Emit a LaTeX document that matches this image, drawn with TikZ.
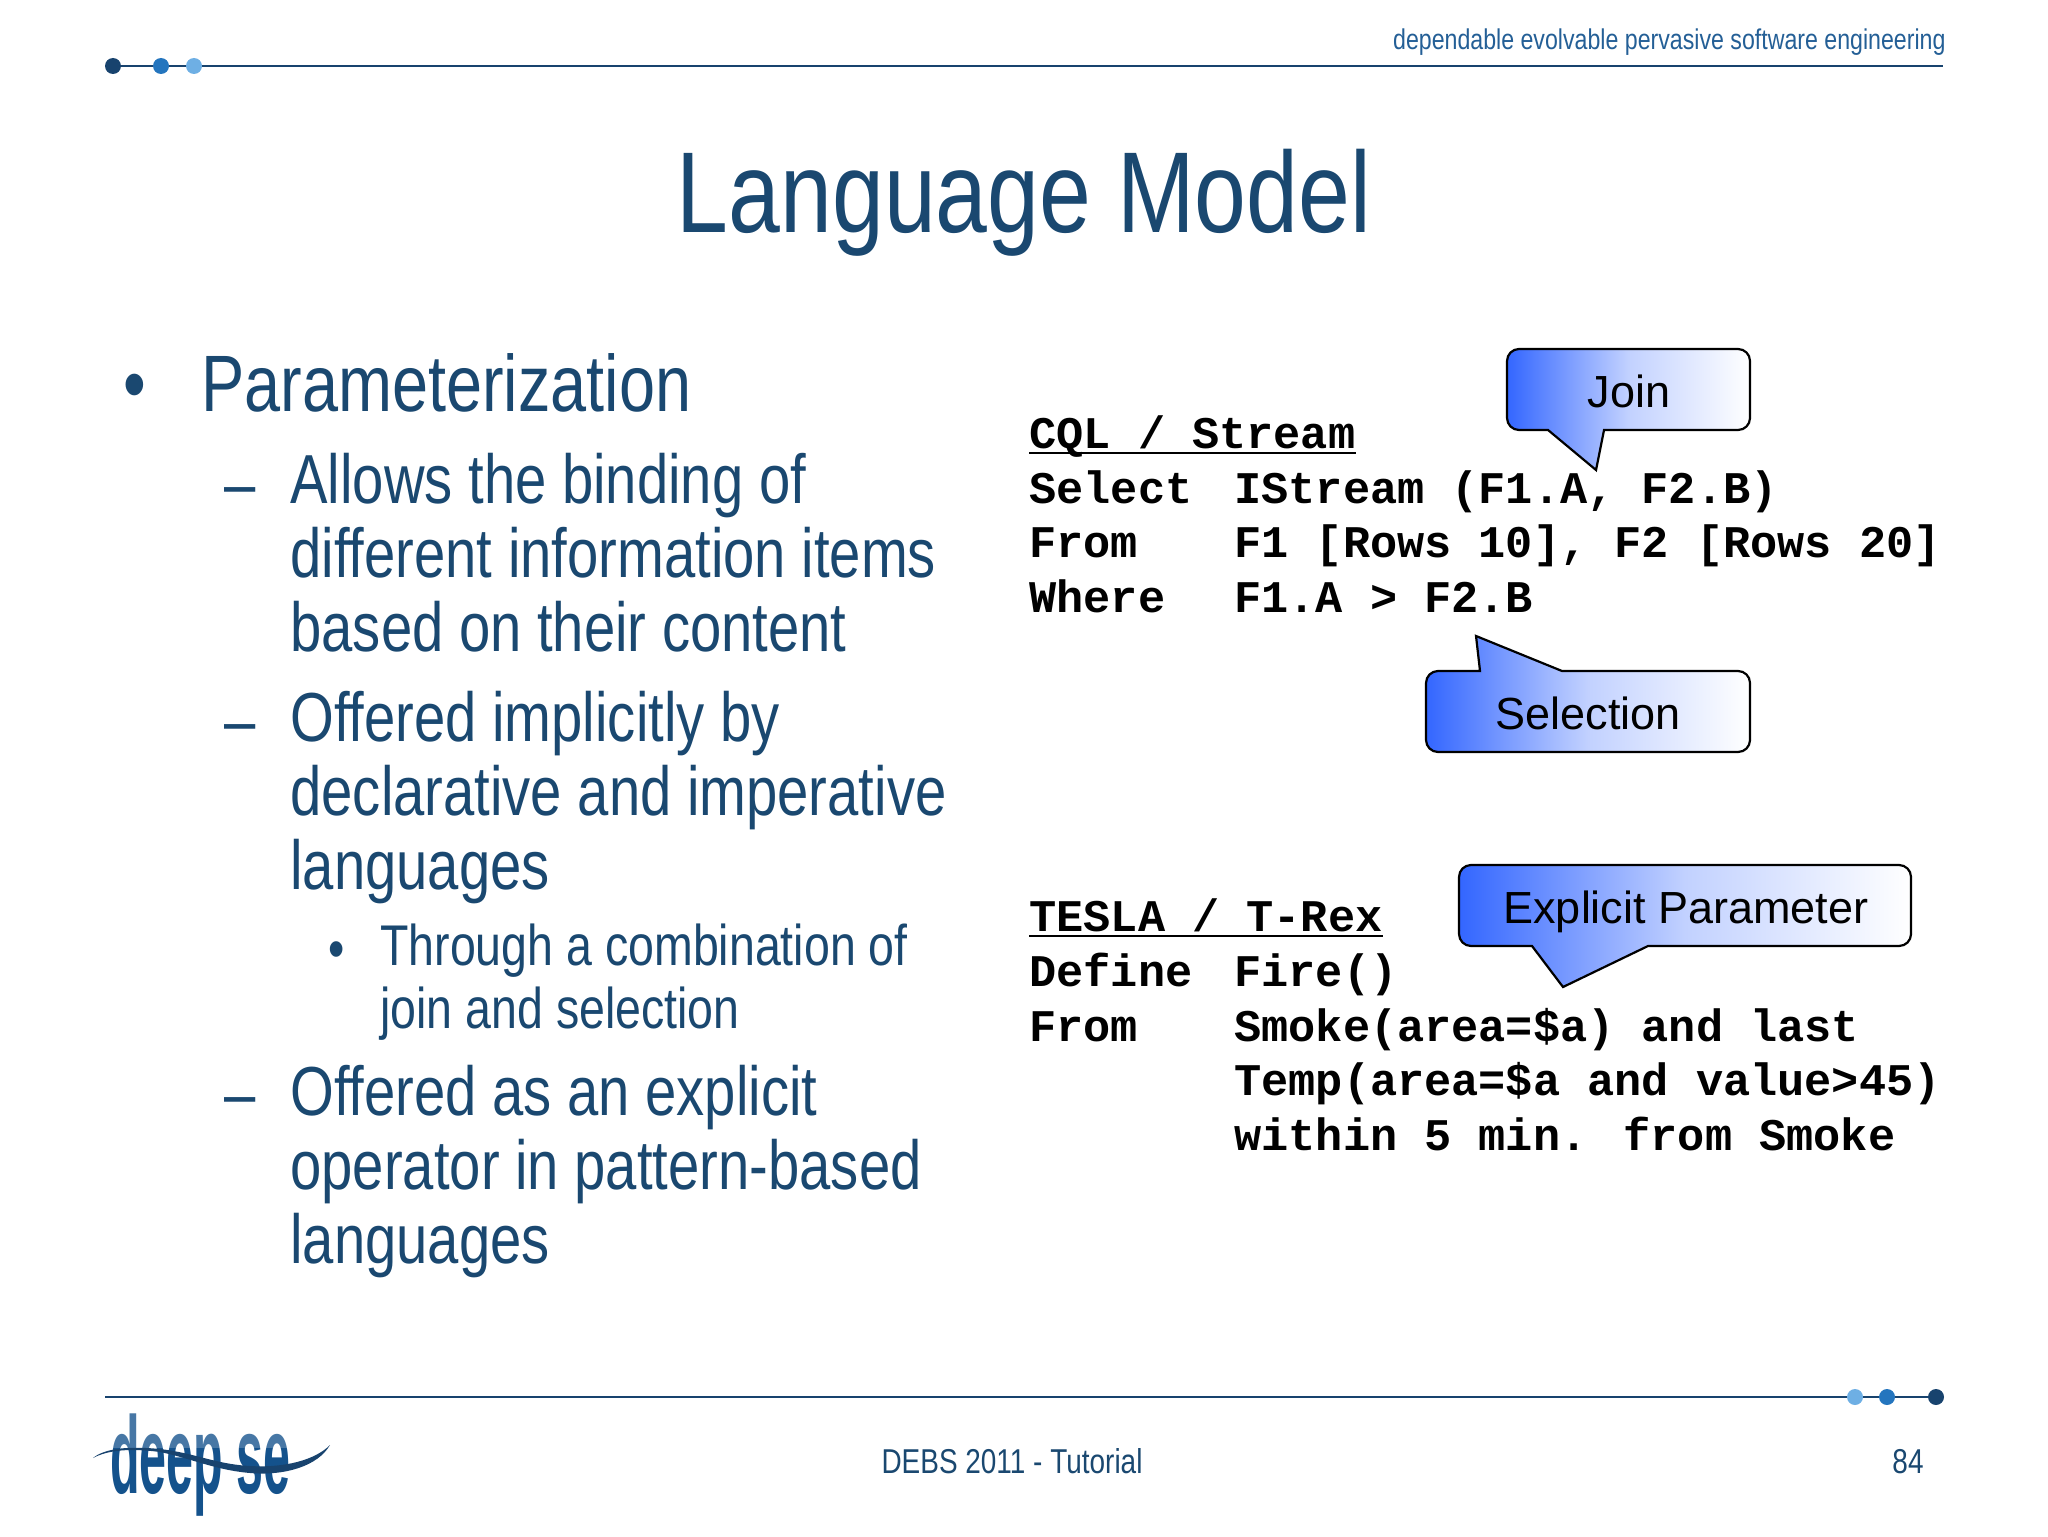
\documentclass[tikz,border=0pt]{standalone}
\usepackage{fontspec}
\usepackage{xcolor}
\usetikzlibrary{positioning,calc}
\setmainfont{Liberation Sans}
\newfontfamily\narrowfont[FakeStretch=0.81]{Liberation Sans}
\newfontfamily\logofont[FakeStretch=0.44]{Liberation Sans Bold}
\newfontfamily\codefont{Liberation Mono Bold}
\definecolor{slidedark}{RGB}{24,67,110}
\definecolor{slidemid}{RGB}{36,117,190}
\definecolor{slidelight}{RGB}{110,175,228}
\definecolor{slidetext}{RGB}{26,72,112}
\definecolor{taglinecol}{RGB}{36,95,150}
\definecolor{logocol}{RGB}{20,82,140}
\definecolor{calloutblue}{RGB}{51,102,255}
\tikzset{
    dotmark/.style={circle, inner sep=0pt, minimum size=8pt},
    rule/.style={draw=slidedark, line width=1.3pt},
    titletext/.style={inner sep=0pt, anchor=base, text=slidetext, font=\narrowfont\fontsize{57.5}{60}\selectfont},
    bulletone/.style={inner sep=0pt, anchor=north west, align=left, text=slidetext, font=\narrowfont\fontsize{40}{48}\selectfont},
    bullettwo/.style={inner sep=0pt, anchor=north west, align=left, text=slidetext, font=\narrowfont\fontsize{34.7}{37}\selectfont},
    bulletthree/.style={inner sep=0pt, anchor=north west, align=left, text=slidetext, font=\narrowfont\fontsize{28.7}{31.5}\selectfont},
    marker/.style={anchor=base west},
    code/.style={inner sep=0pt, anchor=base west, font=\codefont\fontsize{22.63}{25}\selectfont},
    codeline/.style={draw=black, line width=1.4pt},
    callout/.style={draw=black, line width=1.1pt, left color=calloutblue, right color=white, middle color=calloutblue!30},
    callouttext/.style={inner sep=0pt, anchor=base, font=\fontsize{22.5}{25}\selectfont},
    foot/.style={inner sep=0pt, anchor=base, text=slidetext, font=\narrowfont\fontsize{17.25}{20}\selectfont}
}

\begin{document}
\begin{tikzpicture}[x=0.5pt, y=-0.5pt]
    \useasboundingbox (0,0) rectangle (2048,1536);

    % Top rule
    \node [dotmark, fill=slidedark] (topa) at (113,66) {};
    \node [dotmark, fill=slidemid] (topb) at (161,66) {};
    \node [dotmark, fill=slidelight] (topc) at (194,66) {};
    \coordinate (topend) at (1943,66);
    \draw [rule] (topa) -- (topb);
    \draw [rule] (topb) -- (topc);
    \draw [rule] (topc) -- (topend);
    \node [inner sep=0pt, anchor=base east, text=taglinecol, font=\narrowfont\fontsize{14.3}{16}\selectfont] (tagline) at (1946,50) {dependable evolvable pervasive software engineering};

    % Title
    \node [titletext] (title) at (1024,232) {Language Model};

    % Left column
    \node [bulletone, marker] (dotone) at (123,411) {•};
    \node [bulletone] (param) at (201,353) {Parameterization};
    \node [bullettwo, marker] (dasha) at (224,507) {–};
    \node [bullettwo] (allows) at (290,453) {Allows the binding of\\different information items\\based on their content};
    \node [bullettwo, marker] (dashb) at (224,744) {–};
    \node [bullettwo] (offered) at (290,691) {Offered implicitly by\\declarative and imperative\\languages};
    \node [bulletthree, marker] (dottwo) at (328,968) {•};
    \node [bulletthree] (through) at (380,923) {Through a combination of\\join and selection};
    \node [bullettwo, marker] (dashc) at (224,1117) {–};
    \node [bullettwo] (explicit) at (290,1065) {Offered as an explicit\\operator in pattern-based\\languages};

    % CQL query
    \node [code] (cqlhead) at (1029,448) {CQL / Stream};
    \node [code] (cqlselect) at (1029,503) {Select};
    \node [code] (cqlfrom) at (1029,557) {From};
    \node [code] (cqlwhere) at (1029,612) {Where};
    \node [code] (cqlselectv) at (1234,503) {IStream (F1.A, F2.B)};
    \node [code] (cqlfromv) at (1234,557) {F1 [Rows 10], F2 [Rows 20]};
    \node [code] (cqlwherev) at (1234,612) {F1.A > F2.B};
    \draw [codeline] ($(cqlhead.base west)+(0,5)$) -- ($(cqlhead.base east)+(0,5)$);

    % TESLA query
    \node [code] (teslahead) at (1029,931) {TESLA / T-Rex};
    \node [code] (tesladefine) at (1029,986) {Define};
    \node [code] (teslafrom) at (1029,1041) {From};
    \node [code] (tesladefinev) at (1234,986) {Fire()};
    \node [code] (teslasmoke) at (1234,1041) {Smoke(area=\$a) and last};
    \node [code] (teslatemp) at (1234,1095) {Temp(area=\$a and value>45)};
    \node [code] (teslawithin) at (1234,1150) {within 5 min. from Smoke};
    \draw [codeline] ($(teslahead.base west)+(0,5)$) -- ($(teslahead.base east)+(0,5)$);

    % Callouts
    \shade [callout] (1630,349) [rounded corners=6pt] -- (1750,349) -- (1750,430) -- (1620,430) [sharp corners] -- (1604,430) -- (1596,470) -- (1548,430) -- (1535,430) [rounded corners=6pt] -- (1507,430) -- (1507,349) -- cycle;
    \node [callouttext] (join) at (1629,407) {Join};
    \shade [callout] (1600,671) [rounded corners=6pt] -- (1750,671) -- (1750,752) -- (1426,752) -- (1426,671) -- (1465,671) [sharp corners] -- (1480,671) -- (1476,636) -- (1562,671) -- (1580,671) [rounded corners=6pt] -- cycle;
    \node [callouttext] (selection) at (1588,729) {Selection};
    \shade [callout] (1700,865) [rounded corners=6pt] -- (1911,865) -- (1911,946) -- (1665,946) [sharp corners] -- (1648,946) -- (1563,987) -- (1532,946) -- (1515,946) [rounded corners=6pt] -- (1459,946) -- (1459,865) -- cycle;
    \node [callouttext] (parameter) at (1686,923) {Explicit Parameter};

    % Bottom rule
    \node [dotmark, fill=slidelight] (bota) at (1855,1397) {};
    \node [dotmark, fill=slidemid] (botb) at (1887,1397) {};
    \node [dotmark, fill=slidedark] (botc) at (1936,1397) {};
    \coordinate (botstart) at (105,1397);
    \draw [rule] (botstart) -- (bota);
    \draw [rule] (bota) -- (botb);
    \draw [rule] (botb) -- (botc);

    % Footer
    \node [foot] (tutorial) at (1012,1473) {DEBS 2011 - Tutorial};
    \node [foot] (pagenum) at (1908,1473) {84};

    % Logo
    \node [inner sep=0pt, anchor=base west, text=logocol, font=\logofont\fontsize{55}{62}\selectfont] (logo) at (110,1493) {deep se};
    \fill [white, opacity=0.22] (100,1405) rectangle (300,1448);
    \fill [slidedark] (93,1458) .. controls (105,1448) and (130,1446) .. (160,1449) .. controls (195,1453) and (215,1464) .. (250,1466) .. controls (285,1468) and (315,1460) .. (330,1445) .. controls (318,1466) and (285,1476) .. (250,1473) .. controls (215,1470) and (190,1458) .. (160,1452) .. controls (130,1448) and (108,1450) .. (93,1458) -- cycle;
\end{tikzpicture}
\end{document}
